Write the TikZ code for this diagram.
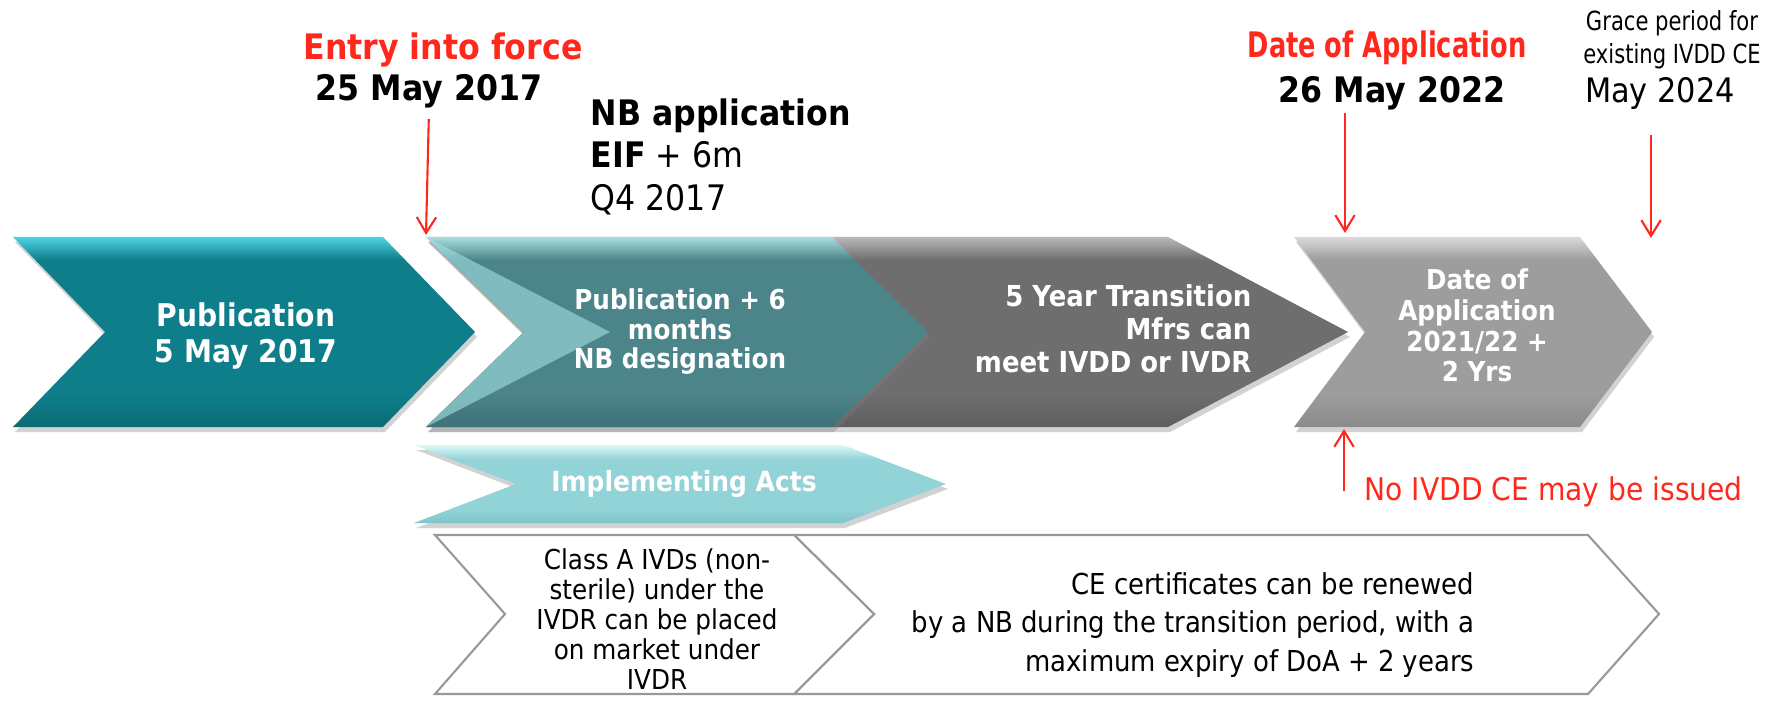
\documentclass[tikz,border=0pt]{standalone}
\usepackage{fontspec}
\setmainfont{DejaVu Sans}[FakeStretch=0.9]
\newfontfamily\narrowfont{DejaVu Sans}[FakeStretch=0.73]
\newfontfamily\gracefont{DejaVu Sans}[FakeStretch=0.8]
\usetikzlibrary{arrows.meta,shadows}

\definecolor{eured}{RGB}{255,40,28}
\definecolor{pubTop}{HTML}{4FD2E2}
\definecolor{pubMid}{HTML}{0E7F8A}
\definecolor{pubBot}{HTML}{0A6B74}
\definecolor{nbTop}{HTML}{A9DEDF}
\definecolor{nbMid}{HTML}{4B8489}
\definecolor{nbBot}{HTML}{3D7277}
\definecolor{trTop}{HTML}{B9B9B9}
\definecolor{trMid}{HTML}{6E6E6E}
\definecolor{trBot}{HTML}{5E5E5E}
\definecolor{doaTop}{HTML}{DADADA}
\definecolor{doaMid}{HTML}{9D9D9D}
\definecolor{doaBot}{HTML}{8B8B8B}
\definecolor{iaTop}{HTML}{DDF8F9}
\definecolor{iaMid}{HTML}{92D3D7}
\definecolor{iaBot}{HTML}{7EC5CA}
\definecolor{wedge}{HTML}{A3E1E4}

\pgfdeclareverticalshading{pubshade}{100bp}{color(0bp)=(pubBot); color(25bp)=(pubBot); color(34bp)=(pubMid); color(69bp)=(pubMid); color(75bp)=(pubTop); color(100bp)=(pubTop)}
\pgfdeclareverticalshading{nbshade}{100bp}{color(0bp)=(nbBot); color(25bp)=(nbBot); color(34bp)=(nbMid); color(69bp)=(nbMid); color(75bp)=(nbTop); color(100bp)=(nbTop)}
\pgfdeclareverticalshading{trshade}{100bp}{color(0bp)=(trBot); color(25bp)=(trBot); color(34bp)=(trMid); color(69bp)=(trMid); color(75bp)=(trTop); color(100bp)=(trTop)}
\pgfdeclareverticalshading{doashade}{100bp}{color(0bp)=(doaBot); color(25bp)=(doaBot); color(34bp)=(doaMid); color(69bp)=(doaMid); color(75bp)=(doaTop); color(100bp)=(doaTop)}
\pgfdeclareverticalshading{iashade}{100bp}{color(0bp)=(iaBot); color(25bp)=(iaBot); color(34bp)=(iaMid); color(66bp)=(iaMid); color(75bp)=(iaTop); color(100bp)=(iaTop)}

\begin{document}
\begin{tikzpicture}[
  redarrow/.style={-{Straight Barb[length=4.5pt,width=5.5pt]},draw=eured,line width=0.6pt},
  lbl/.style={inner sep=0pt},
  intxt/.style={inner sep=0pt,text=white,align=center},
  ombre/.style={drop shadow={shadow xshift=0.02cm,shadow yshift=-0.05cm,opacity=0.35}},
  blanc/.style={fill=white,draw=black!40,line width=0.6pt}
]

\fill[white] (0,0) rectangle (17.79,-7.02);
\useasboundingbox (0,0) rectangle (17.79,-7.02);

% Chevrons du haut
\shade[shading=trshade,ombre] (4.26,-2.37) -- (11.68,-2.37) -- (13.48,-3.32) -- (11.68,-4.27) -- (4.26,-4.27) -- (5.24,-3.32) -- cycle;
\shade[shading=nbshade,ombre] (4.26,-2.37) -- (8.32,-2.37) -- (9.28,-3.32) -- (8.32,-4.27) -- (4.26,-4.27) -- (5.24,-3.32) -- cycle;
\fill[wedge,opacity=0.6] (4.26,-2.37) -- (6.10,-3.32) -- (4.26,-4.27) -- (5.24,-3.32) -- cycle;
\shade[shading=pubshade,ombre] (0.13,-2.37) -- (3.83,-2.37) -- (4.75,-3.32) -- (3.83,-4.27) -- (0.13,-4.27) -- (1.05,-3.32) -- cycle;
\shade[shading=doashade,ombre] (12.94,-2.37) -- (15.80,-2.37) -- (16.52,-3.32) -- (15.80,-4.27) -- (12.94,-4.27) -- (13.65,-3.32) -- cycle;

% Implementing Acts
\shade[shading=iashade,ombre] (4.14,-4.45) -- (8.43,-4.45) -- (9.46,-4.84) -- (8.43,-5.23) -- (4.14,-5.23) -- (5.16,-4.84) -- cycle;

% Chevrons blancs
\draw[blanc] (7.94,-5.35) -- (15.88,-5.35) -- (16.59,-6.14) -- (15.88,-6.94) -- (7.94,-6.94) -- (8.74,-6.14) -- cycle;
\draw[blanc] (4.35,-5.35) -- (7.94,-5.35) -- (8.74,-6.14) -- (7.94,-6.94) -- (4.35,-6.94) -- (5.05,-6.14) -- cycle;

% Textes des chevrons
\node[intxt,font=\fontsize{8.9}{10}\selectfont\bfseries] (pubtext) at (2.46,-3.36) {Publication\\5 May 2017};
\node[intxt,font=\fontsize{7.8}{8.4}\selectfont\bfseries] (nbtext) at (6.80,-3.32) {Publication + 6\\months\\NB designation};
\node[intxt,align=right,anchor=east,font=\fontsize{8.2}{9.4}\selectfont\bfseries] (transtext) at (12.52,-3.29) {5 Year Transition\\Mfrs can\\meet IVDD or IVDR};
\node[intxt,font=\fontsize{7.8}{8.7}\selectfont\bfseries] (doatext) at (14.77,-3.255) {Date of\\Application\\2021/22 +\\2 Yrs};
\node[intxt,font=\fontsize{7.9}{9}\selectfont\bfseries] (iatext) at (6.84,-4.84) {Implementing Acts};
\node[lbl,align=center,font=\fontsize{7.8}{8.5}\selectfont] (classtext) at (6.57,-6.19) {Class A IVDs (non-\\sterile) under the\\IVDR can be placed\\on market under\\IVDR};
\node[lbl,align=right,anchor=east,font=\fontsize{8.2}{11}\selectfont] (cetext) at (14.75,-6.25) {CE certificates can be renewed\\by a NB during the transition period, with a\\maximum expiry of DoA + 2 years};

% Dates en haut
\node[lbl,anchor=base,text=eured,font=\fontsize{10}{12}\selectfont\bfseries] (eiftitle) at (4.43,-0.60) {Entry into force};
\node[lbl,anchor=base,font=\fontsize{10}{12}\selectfont\bfseries] (date25) at (4.29,-1.01) {25 May 2017};
\node[lbl,anchor=base west,font=\fontsize{10}{12}\selectfont\bfseries] (nbapp) at (5.90,-1.26) {NB application};
\node[lbl,anchor=base west,font=\fontsize{10}{12}\selectfont] (nbeif) at (5.90,-1.68) {\textbf{EIF} + 6m};
\node[lbl,anchor=base west,font=\fontsize{10}{12}\selectfont] (nbq4) at (5.90,-2.11) {Q4 2017};
\node[lbl,anchor=base,text=eured,font=\narrowfont\fontsize{10}{12}\selectfont\bfseries] (doatitle) at (13.87,-0.58) {Date of Application};
\node[lbl,anchor=base,font=\fontsize{10}{12}\selectfont\bfseries] (date26) at (13.92,-1.03) {26 May 2022};
\node[lbl,align=center,font=\gracefont\fontsize{7.5}{9.4}\selectfont] (grace) at (16.72,-0.40) {Grace period for\\existing IVDD CE};
\node[lbl,anchor=base,font=\fontsize{9.6}{11}\selectfont] (may24) at (16.60,-1.03) {May 2024};
\node[lbl,anchor=base west,text=eured,font=\fontsize{8.9}{10}\selectfont] (noce) at (13.64,-5.00) {No IVDD CE may be issued};

% Fleches rouges
\coordinate (eifpt) at (4.26,-2.35);
\coordinate (doapt) at (13.45,-2.33);
\coordinate (gracept) at (16.51,-2.38);
\coordinate (nocept) at (13.44,-4.29);

\draw[redarrow,shorten <=2.8pt] (date25.south) -- (eifpt);
\draw[redarrow,shorten <=0.6pt] (date26.south -| doapt) -- (doapt);
\draw[redarrow,shorten <=7pt] (may24.south -| gracept) -- (gracept);
\draw[redarrow] (noce.west -| nocept) -- (nocept);

\end{tikzpicture}
\end{document}
